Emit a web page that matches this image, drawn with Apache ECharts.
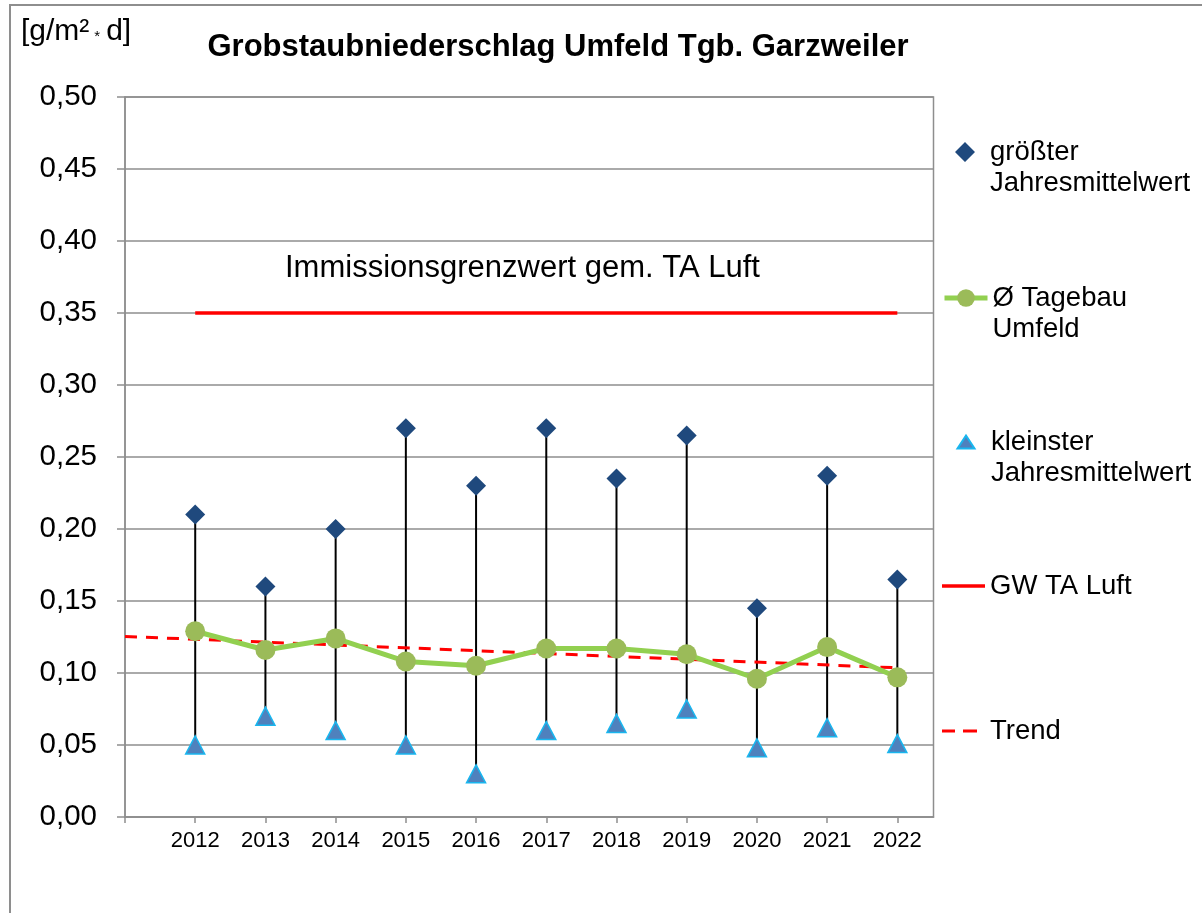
<!DOCTYPE html>
<html>
<head>
<meta charset="utf-8">
<script src="https://cdn.jsdelivr.net/npm/echarts@6/dist/echarts.min.js"></script>
<style>
html,body{margin:0;padding:0;background:#fff;}
#chart{width:1202px;height:913px;}
</style>
</head>
<body>
<div id="chart"></div>
<script>
// ---- data ----
var years = [2012, 2013, 2014, 2015, 2016, 2017, 2018, 2019, 2020, 2021, 2022];
var tickYears = [2011, 2012, 2013, 2014, 2015, 2016, 2017, 2018, 2019, 2020, 2021, 2022];
var maxValues = [0.210, 0.160, 0.200, 0.270, 0.230, 0.270, 0.235, 0.265, 0.145, 0.237, 0.165];
var avgValues = [0.129, 0.116, 0.124, 0.108, 0.105, 0.117, 0.117, 0.113, 0.096, 0.118, 0.097];
var minValues = [0.050, 0.070, 0.060, 0.050, 0.030, 0.060, 0.065, 0.075, 0.048, 0.062, 0.051];
var limitYears = [2012, 2022];
var limitValues = [0.35, 0.35];
var trendYears = [2011, 2022];
var trendValues = [0.1254, 0.1036];

var nameMax = 'größter\nJahresmittelwert';
var nameAvg = 'Ø Tagebau\nUmfeld';
var nameMin = 'kleinster\nJahresmittelwert';
var nameGW = 'GW TA Luft';
var nameTrend = 'Trend';

function pairs(xs, ys) { return xs.map(function (x, i) { return [x, ys[i]]; }); }

var FONT = 'Liberation Sans, Arial, sans-serif';
var chart = echarts.init(document.getElementById('chart'), null, {renderer: 'canvas'});

function legendFor(name, icon, iconH, iconY, twoLine, extra) {
  var boxH = twoLine ? 93 : 31;
  var lg = {
    data: [icon ? {name: name, icon: icon} : name],
    left: 942,
    top: iconY - boxH / 2,
    padding: 0,
    itemWidth: 43,
    itemHeight: iconH,
    itemGap: 0,
    selectedMode: false,
    formatter: function (n) { return twoLine ? '\n' + n : n; },
    textStyle: {fontFamily: FONT, fontSize: 27.5, color: '#000', lineHeight: 31}
  };
  if (extra) { for (var k in extra) lg[k] = extra[k]; }
  return lg;
}

var option = {
  backgroundColor: '#fff',
  animation: false,
  textStyle: {fontFamily: FONT},
  title: {
    text: 'Grobstaubniederschlag Umfeld Tgb. Garzweiler',
    left: 553,
    textAlign: 'center',
    top: 27,
    textStyle: {fontFamily: FONT, fontSize: 31, fontWeight: 'bold', color: '#000'}
  },
  legend: [
    legendFor(nameMax, 'path://M0,10L0,10ZM23,0L33,10L23,20L13,10ZM43,10L43,10Z', 20, 152, true),
    legendFor(nameAvg, null, 22, 298, true, {lineStyle: {width: 5}}),
    legendFor(nameMin, 'path://M0,13L0,13ZM23,0L31.5,13L14.5,13ZM43,13L43,13Z', 13, 442, true),
    legendFor(nameGW, 'path://M0,0H43V3.5H0Z', 3.5, 586, false),
    legendFor(nameTrend, 'path://M0,0H13V3H0ZM21,0H35V3H21ZM43,0L43,3L43,3Z', 3, 731, false)
  ],
  grid: {
    left: 125, top: 97, right: 268.5, bottom: 96,
    show: true, borderColor: '#8e8e8e', borderWidth: 1.5, backgroundColor: 'transparent'
  },
  xAxis: {
    type: 'value',
    min: 2011,
    max: 2022.515,
    interval: 1,
    splitLine: {show: false},
    axisLine: {lineStyle: {color: '#8e8e8e', width: 1.5}},
    axisTick: {show: true, length: 6, lineStyle: {color: '#8e8e8e', width: 1.5}, customValues: tickYears},
    axisLabel: {
      customValues: years,
      fontFamily: FONT, fontSize: 22, color: '#000', margin: 13,
      formatter: function (v) { return String(v); }
    }
  },
  yAxis: {
    type: 'value',
    min: 0,
    max: 0.5,
    interval: 0.05,
    axisLine: {show: true, lineStyle: {color: '#8e8e8e', width: 1.5}},
    axisTick: {show: true, length: 8, lineStyle: {color: '#8e8e8e', width: 1.5}},
    splitLine: {show: true, lineStyle: {color: '#8e8e8e', width: 1.5}},
    axisLabel: {
      fontFamily: FONT, fontSize: 29.5, color: '#000', margin: 28,
      formatter: function (v) { return v.toFixed(2).replace('.', ','); }
    }
  },
  series: [
    {
      name: 'range',
      type: 'custom',
      z: 1,
      silent: true,
      encode: {x: 0, y: [1, 2]},
      data: years.map(function (y, i) { return [y, maxValues[i], minValues[i]]; }),
      renderItem: function (params, api) {
        var x = api.value(0);
        var p1 = api.coord([x, api.value(1)]);
        var p2 = api.coord([x, api.value(2)]);
        return {
          type: 'line',
          shape: {x1: p1[0], y1: p1[1], x2: p2[0], y2: p2[1]},
          style: {stroke: '#000', lineWidth: 2}
        };
      }
    },
    {
      name: nameGW,
      type: 'line',
      z: 2,
      data: pairs(limitYears, limitValues),
      symbol: 'none',
      itemStyle: {color: '#ff0000'},
      lineStyle: {color: '#ff0000', width: 3.5}
    },
    {
      name: nameTrend,
      type: 'line',
      z: 3,
      data: pairs(trendYears, trendValues),
      symbol: 'none',
      itemStyle: {color: '#ff0000'},
      lineStyle: {color: '#ff0000', width: 3, type: [12, 9]}
    },
    {
      name: nameAvg,
      type: 'line',
      z: 4,
      data: pairs(years, avgValues),
      symbol: 'circle',
      symbolSize: 20,
      itemStyle: {color: '#9bbb59', borderWidth: 0},
      lineStyle: {color: '#92d050', width: 5}
    },
    {
      name: nameMax,
      type: 'scatter',
      z: 5,
      data: pairs(years, maxValues),
      symbol: 'diamond',
      symbolSize: [20, 20],
      itemStyle: {color: '#1f497d', opacity: 1}
    },
    {
      name: nameMin,
      type: 'scatter',
      z: 5,
      data: pairs(years, minValues),
      symbol: 'triangle',
      symbolSize: [19, 18],
      itemStyle: {color: '#4f81bd', borderColor: '#19b6ef', borderWidth: 1.5, opacity: 1}
    }
  ],
  graphic: [
    {
      type: 'polyline',
      silent: true,
      shape: {points: [[10, 920], [10, 5], [1202, 5]]},
      style: {stroke: '#8e8e8e', lineWidth: 2, fill: null}
    },
    {
      type: 'text',
      left: 21,
      top: 17,
      style: {
        text: '[g/m²{s|*}d]',
        fontFamily: FONT, fontSize: 30, fill: '#000',
        rich: {s: {fontSize: 15, fontFamily: FONT, fill: '#000', padding: [10, 6, 0, 5]}}
      }
    },
    {
      type: 'text',
      left: 285,
      top: 253,
      style: {
        text: 'Immissionsgrenzwert gem. TA Luft',
        fontFamily: FONT, fontSize: 31, fill: '#000'
      }
    }
  ]
};
chart.setOption(option);
</script>
</body>
</html>
